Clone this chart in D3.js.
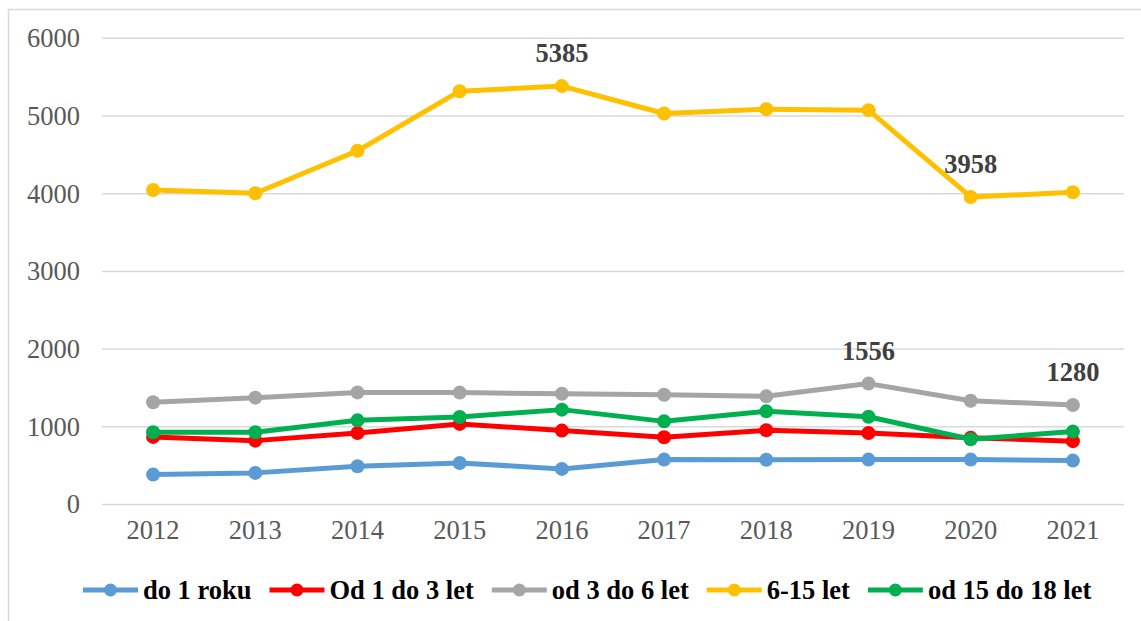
<!DOCTYPE html>
<html>
<head>
<meta charset="utf-8">
<script src="https://cdn.jsdelivr.net/npm/d3@7"></script>
</head>
<body style="margin:0;background:#fff">
<div id="chart"></div>
<script>
// data
var years = ["2012", "2013", "2014", "2015", "2016", "2017", "2018", "2019", "2020", "2021"];
var seriesNames = ["do 1 roku", "Od 1 do 3 let", "od 3 do 6 let", "6-15 let", "od 15 do 18 let"];
var seriesColors = ["#5b9bd5", "#ff0000", "#a5a5a5", "#ffc000", "#00b050"];
var do1 = [385, 407, 492, 535, 458, 578, 575, 578, 578, 565];
var od1do3 = [870, 822, 921, 1037, 951, 865, 955, 921, 860, 815];
var od3do6 = [1315, 1375, 1443, 1440, 1426, 1413, 1392, 1556, 1336, 1280];
var od6do15 = [4047, 4005, 4552, 5319, 5385, 5032, 5088, 5075, 3958, 4018];
var od15do18 = [930, 929, 1083, 1127, 1221, 1070, 1199, 1130, 840, 938];
var yTicks = [0, 1000, 2000, 3000, 4000, 5000, 6000];
// which points carry a value label: [series index, year]
var labelPoints = [[3, "2016"], [3, "2020"], [2, "2019"], [2, "2021"]];

var allSeries = [do1, od1do3, od3do6, od6do15, od15do18];
var FONT = "Liberation Serif";
var FS = 26.5;

var W = 1141, H = 621;
var svg = d3.select("#chart").append("svg")
  .attr("width", W)
  .attr("height", H);

// outer chart border (runs off the right and bottom)
svg.append("rect")
  .attr("x", 8.5).attr("y", 9.5)
  .attr("width", 1300).attr("height", 800)
  .attr("fill", "none")
  .attr("stroke", "#d9d9d9")
  .attr("stroke-width", 1.5);

var x = d3.scaleBand()
  .domain(years)
  .range([102, 1124]);
var y = d3.scaleLinear()
  .domain([0, 6000])
  .range([504.5, 38.3]);

function cx(yr) { return x(yr) + x.bandwidth() / 2; }

// gridlines
svg.append("g")
  .selectAll("line")
  .data(yTicks)
  .enter()
  .append("line")
    .attr("x1", 102).attr("x2", 1124)
    .attr("y1", function(d) { return y(d); })
    .attr("y2", function(d) { return y(d); })
    .attr("stroke", "#d9d9d9")
    .attr("stroke-width", 1.5);

// Y axis
var yAxis = svg.append("g")
  .attr("transform", "translate(80,0)")
  .call(d3.axisLeft(y).tickValues(yTicks).tickSize(0).tickPadding(0).tickFormat(d3.format("d")));
yAxis.attr("font-family", FONT).attr("font-size", FS);
yAxis.select(".domain").remove();
yAxis.selectAll("text")
  .attr("fill", "#595959")
  .attr("font-family", FONT)
  .attr("font-size", FS);

// X axis
var xAxis = svg.append("g")
  .attr("transform", "translate(0,504.5)")
  .call(d3.axisBottom(x).tickSize(0).tickPadding(16));
xAxis.attr("font-family", FONT).attr("font-size", FS);
xAxis.select(".domain").remove();
xAxis.selectAll("text")
  .attr("fill", "#595959")
  .attr("font-family", FONT)
  .attr("font-size", FS);

// lines + markers
var line = d3.line()
  .x(function(d, i) { return cx(years[i]); })
  .y(function(d) { return y(d); });

allSeries.forEach(function(vals, s) {
  var g = svg.append("g");
  g.append("path")
    .datum(vals)
    .attr("d", line)
    .attr("fill", "none")
    .attr("stroke", seriesColors[s])
    .attr("stroke-width", 5)
    .attr("stroke-linejoin", "round");
  g.selectAll("circle")
    .data(vals)
    .enter()
    .append("circle")
      .attr("cx", function(d, i) { return cx(years[i]); })
      .attr("cy", function(d) { return y(d); })
      .attr("r", 7)
      .attr("fill", seriesColors[s]);
});

// data labels
svg.append("g")
  .selectAll("text")
  .data(labelPoints)
  .enter()
  .append("text")
    .attr("x", function(d) { return cx(d[1]); })
    .attr("y", function(d) { return y(allSeries[d[0]][years.indexOf(d[1])]) - 24; })
    .attr("text-anchor", "middle")
    .attr("fill", "#404040")
    .attr("font-family", FONT)
    .attr("font-size", FS)
    .attr("font-weight", "bold")
    .text(function(d) { return allSeries[d[0]][years.indexOf(d[1])]; });

// legend
var lx = 83, ly = 590;
seriesNames.forEach(function(name, s) {
  var g = svg.append("g").attr("transform", "translate(" + lx + "," + ly + ")");
  g.append("line")
    .attr("x1", 0).attr("x2", 55)
    .attr("stroke", seriesColors[s])
    .attr("stroke-width", 5);
  g.append("circle")
    .attr("cx", 27.5).attr("r", 6.5)
    .attr("fill", seriesColors[s]);
  var t = g.append("text")
    .attr("x", 60)
    .attr("y", 9)
    .attr("fill", "#000")
    .attr("font-family", FONT)
    .attr("font-size", FS)
    .attr("font-weight", "bold")
    .text(name);
  lx += 60 + t.node().getComputedTextLength() + 18;
});
</script>
</body>
</html>
